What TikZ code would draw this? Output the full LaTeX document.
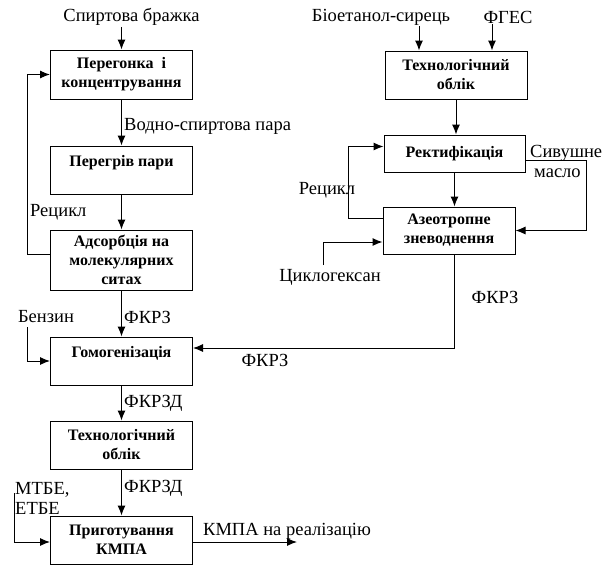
\documentclass[tikz,border=0pt]{standalone}
\usepackage{fontspec}
\setmainfont{Liberation Serif}
\usetikzlibrary{positioning,arrows.meta}

\tikzset{
  stage/.style={draw, line width=1pt, minimum width=142pt, minimum height=48pt,
    inner sep=2pt, align=center, font=\fontsize{16}{19}\selectfont\bfseries},
  lbl/.style={inner sep=1pt, font=\fontsize{18.5}{20}\selectfont},
  flow/.style={line width=1pt, -{Latex[length=10pt,width=8pt]}},
}

\begin{document}
\begin{tikzpicture}[x=1pt, y=-1pt]
      \useasboundingbox (0,0) rectangle (602,565);

      \node [stage, minimum height=49pt] at (121.5, 74.5) (peregon) {Перегонка\ \ і\\концентрування};
      \node [stage] at (121.5, 170) (peregriv) {Перегрів пари\\\mbox{}};
      \node [stage, minimum height=60pt] at (121.5, 260) (adsorb) {Адсорбція на\\молекулярних\\ситах};
      \node [stage] at (121.5, 361) (gomog) {Гомогенізація\\\mbox{}};
      \node [stage] at (121.5, 445) (oblikL) {Технологічний\\облік};
      \node [stage] at (121.5, 540) (prigot) {Приготування\\КМПА};

      \node [stage] at (456, 75) (oblikR) {Технологічний\\облік};
      \node [stage, minimum width=141pt, minimum height=37pt] at (454.5, 153.5) (rektyf) {Ректифікація};
      \node [stage, minimum width=132pt, minimum height=47pt] at (449, 230.5) (azeotr) {Азеотропне\\зневоднення};

      \node [lbl] at (131.5, 17) (brazhka) {Спиртова бражка};
      \node [lbl, anchor=west] at (123, 126) (vodno) {Водно-спиртова пара};
      \node [lbl, anchor=west] at (29, 212) (recL) {Рецикл};
      \node [lbl, anchor=west] at (123, 317) (fkrz1) {ФКРЗ};
      \node [lbl] at (46, 317) (benzin) {Бензин};
      \node [lbl] at (265, 360) (fkrz2) {ФКРЗ};
      \node [lbl, anchor=west] at (123, 403) (fkrzd1) {ФКРЗД};
      \node [lbl, anchor=west] at (123, 488) (fkrzd2) {ФКРЗД};
      \node [lbl, anchor=west, align=left] at (14, 498) (mtbe) {МТБЕ,\\ЕТБЕ};
      \node [lbl, anchor=west] at (202, 531) (kmpa) {КМПА на реалізацію};
      \node [lbl] at (381, 17) (bioet) {Біоетанол-сирець};
      \node [lbl] at (508, 17) (fges) {ФГЕС};
      \node [lbl] at (327, 190) (recR) {Рецикл};
      \node [lbl, anchor=west, align=left] at (529, 161) (syvush) {Сивушне\\\hspace{4pt}масло};
      \node [lbl] at (330, 277) (cyclo) {Циклогексан};
      \node [lbl] at (495, 297) (fkrz3) {ФКРЗ};

      \coordinate (benzinTop) at (27, 327);
      \coordinate (mtbeTop) at (14, 493);
      \coordinate (cycloTop) at (323, 265);
      \coordinate (kmpaEnd) at (297, 542);
      \coordinate (recLeft) at (27, 254);
      \coordinate (recRight) at (348, 218);
      \coordinate (syvEdge) at (586, 160);

      % left line
      \draw [flow] (peregon.north |- brazhka.south) -- (peregon.north);
      \draw [flow] (peregon) -- (peregriv);
      \draw [flow] (peregriv) -- (adsorb);
      \draw [flow] (adsorb) -- (gomog);
      \draw [flow] (gomog) -- (oblikL);
      \draw [flow] (oblikL) -- (prigot);
      \draw [flow] (recLeft -| adsorb.west) -- (recLeft) |- (peregon.west);
      \draw [flow] (benzinTop) |- (gomog.west);
      \draw [flow] (mtbeTop) |- (prigot.west |- kmpaEnd);
      \draw [flow] (prigot.east |- kmpaEnd) -- (kmpaEnd);

      % right line
      \draw [flow] ([xshift=-37pt]oblikR.north |- bioet.south) -- ([xshift=-37pt]oblikR.north);
      \draw [flow] ([xshift=36pt]oblikR.north |- fges.south) -- ([xshift=36pt]oblikR.north);
      \draw [flow] (oblikR.south) -- (oblikR.south |- rektyf.north);
      \draw [flow] (rektyf.south) -- (rektyf.south |- azeotr.north);
      \draw [flow] (recRight -| azeotr.west) -- (recRight) |- ([yshift=7pt]rektyf.west);
      \draw [flow] (syvEdge -| rektyf.east) -- (syvEdge) |- (azeotr.east);
      \draw [flow] (cycloTop) |- ([yshift=-11.5pt]azeotr.west);
      \draw [flow] (rektyf.south |- azeotr.south) |- ([yshift=13pt]gomog.east);
    \end{tikzpicture}
\end{document}
